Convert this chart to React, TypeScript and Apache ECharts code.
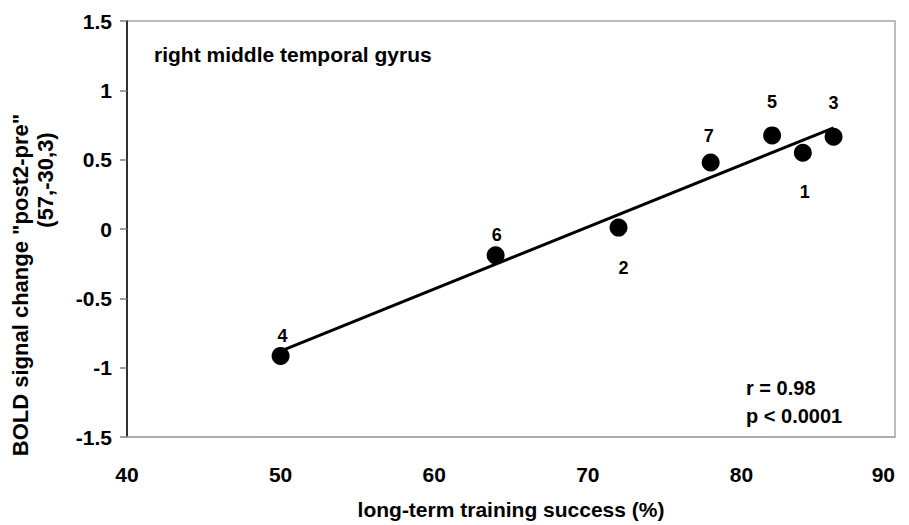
import React, { useEffect, useRef } from "react";
import * as echarts from "echarts";

const pointIds = ["1", "2", "3", "4", "5", "6", "7"];
const trainingSuccess = [84, 72, 86, 50, 82, 64, 78];
const boldChange = [0.55, 0.01, 0.665, -0.915, 0.675, -0.19, 0.48];
const fitLine = [
  [50, -0.88],
  [86, 0.73],
];
const xTicks = { min: 40, max: 90, step: 10 };
const yTicks = { min: -1.5, max: 1.5, step: 0.5 };
const titleText = "right middle temporal gyrus";
const xTitle = "long-term training success (%)";
const yTitleLines = ['BOLD signal change "post2-pre"', "(57,-30,3)"];
const statLines = ["r = 0.98", "p < 0.0001"];

const labelOffsets: Record<string, [number, number]> = {
  "1": [2, 39],
  "2": [5, 40],
  "3": [0, -34],
  "4": [2, -20],
  "5": [0, -33],
  "6": [1, -20],
  "7": [-2, -26],
};

const FONT = "'Liberation Sans', Arial, sans-serif";

export default function App() {
  const ref = useRef<HTMLDivElement>(null);
  useEffect(() => {
    if (!ref.current) return;
    const chart = echarts.init(ref.current, undefined, { renderer: "svg" });
    const scatterData = pointIds.map((id, i) => ({
      name: id,
      value: [trainingSuccess[i], boldChange[i]],
      label: { offset: labelOffsets[id] },
    }));
    chart.setOption({
      animation: false,
      backgroundColor: "#ffffff",
      textStyle: { fontFamily: FONT },
      grid: {
        left: 127,
        right: 14,
        top: 21,
        bottom: 88,
        show: true,
        borderColor: "#a6a6a6",
        borderWidth: 1.5,
        backgroundColor: "transparent",
      },
      xAxis: {
        type: "value",
        min: xTicks.min,
        max: xTicks.max,
        interval: xTicks.step,
        splitLine: { show: false },
        axisTick: { show: false },
        axisLine: { show: true, onZero: false, lineStyle: { color: "#a6a6a6", width: 1.5 } },
        axisLabel: {
          color: "#000",
          fontWeight: "bold",
          fontSize: 21,
          fontFamily: FONT,
          margin: 27,
          alignMaxLabel: "right",
        },
      },
      yAxis: {
        type: "value",
        min: yTicks.min,
        max: yTicks.max,
        interval: yTicks.step,
        splitLine: { show: false },
        axisTick: {
          show: true,
          inside: false,
          length: 7,
          lineStyle: { color: "#808080", width: 1.5 },
        },
        axisLine: { show: true, onZero: false, lineStyle: { color: "#000", width: 1.5 } },
        axisLabel: {
          color: "#000",
          fontWeight: "bold",
          fontSize: 21,
          fontFamily: FONT,
          margin: 15,
        },
      },
      series: [
        {
          type: "line",
          data: fitLine,
          symbol: "none",
          lineStyle: { color: "#000", width: 3 },
          z: 3,
          silent: true,
        },
        {
          type: "scatter",
          data: scatterData,
          symbol: "circle",
          symbolSize: 18,
          itemStyle: { color: "#000", opacity: 1 },
          z: 4,
          label: {
            show: true,
            position: "inside",
            formatter: (p: any) => p.name,
            color: "#000",
            fontWeight: "bold",
            fontSize: 18,
            fontFamily: FONT,
          },
        },
      ],
      graphic: [
        {
          type: "text",
          left: 154,
          top: 44,
          style: {
            text: titleText,
            fill: "#000",
            font: `bold 21px ${FONT}`,
          },
        },
        {
          type: "text",
          x: 746,
          y: 388,
          style: {
            text: statLines[0],
            fill: "#000",
            font: `bold 20px ${FONT}`,
            verticalAlign: "middle",
          },
        },
        {
          type: "text",
          x: 746,
          y: 416,
          style: {
            text: statLines[1],
            fill: "#000",
            font: `bold 20px ${FONT}`,
            verticalAlign: "middle",
          },
        },
        {
          type: "text",
          x: 511,
          y: 509,
          style: {
            text: xTitle,
            fill: "#000",
            font: `bold 21px ${FONT}`,
            align: "center",
            verticalAlign: "middle",
          },
        },
        {
          type: "text",
          x: 20,
          y: 285,
          rotation: Math.PI / 2,
          style: {
            text: yTitleLines[0],
            fill: "#000",
            font: `bold 22px ${FONT}`,
            align: "center",
            verticalAlign: "middle",
          },
        },
        {
          type: "text",
          x: 45,
          y: 180,
          rotation: Math.PI / 2,
          style: {
            text: yTitleLines[1],
            fill: "#000",
            font: `bold 22px ${FONT}`,
            align: "center",
            verticalAlign: "middle",
          },
        },
      ],
    });
    return () => chart.dispose();
  }, []);
  return (
    <div
      ref={ref}
      style={{ position: "fixed", left: 0, top: 0, width: 909, height: 525 }}
    />
  );
}
